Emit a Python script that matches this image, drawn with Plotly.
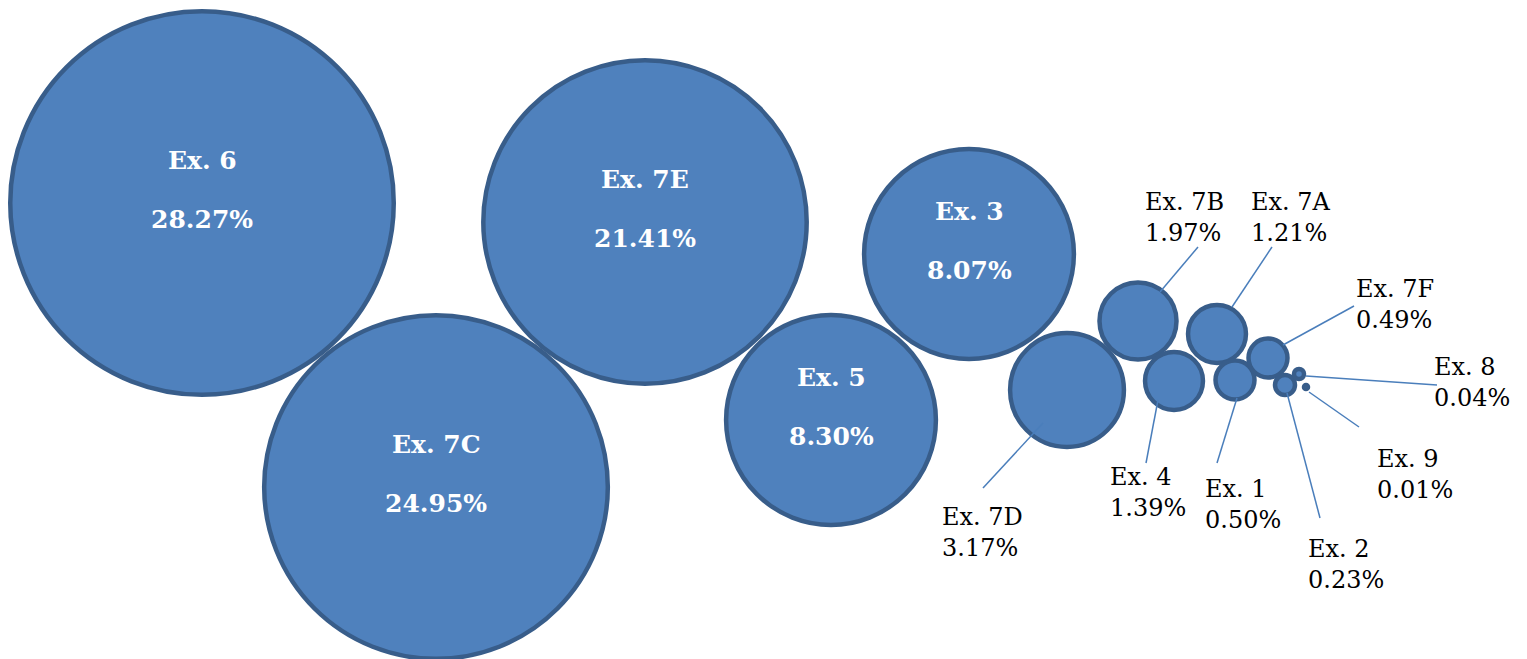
import plotly.graph_objects as go
import math

# ---- data ----
names = ["Ex. 6", "Ex. 7C", "Ex. 7E", "Ex. 5", "Ex. 3", "Ex. 7D", "Ex. 7B",
         "Ex. 4", "Ex. 7A", "Ex. 1", "Ex. 7F", "Ex. 2", "Ex. 8", "Ex. 9"]
shares = [28.27, 24.95, 21.41, 8.30, 8.07, 3.17, 1.97,
          1.39, 1.21, 0.50, 0.49, 0.23, 0.04, 0.01]
x_vals = [2.02, 4.36, 6.45, 8.31, 9.69, 10.67, 11.38,
          11.74, 12.17, 12.35, 12.68, 12.85, 12.99, 13.06]
y_vals = [4.56, 1.72, 4.37, 2.39, 4.05, 2.69, 3.38,
          2.78, 3.25, 2.79, 3.01, 2.74, 2.85, 2.72]
bubble_size = [28.27, 22.7, 20.1, 8.46, 8.46, 2.49, 1.14,
               0.645, 0.645, 0.292, 0.292, 0.0767, 0.0192, 0.0031]

# ---- style ----
FILL = "#4F81BD"
EDGE = "#385D8A"
LEADER = "#4A7EBB"
LW = 4.5
D_MAX = 383.5
W, H = 1527, 659

diam = [D_MAX * math.sqrt(v / max(bubble_size)) for v in bubble_size]

fig = go.Figure()
fig.add_trace(go.Scatter(
    x=x_vals, y=y_vals, mode="markers",
    marker=dict(size=diam, sizemode="diameter", color=FILL,
                line=dict(color=EDGE, width=LW), opacity=1),
    cliponaxis=False, hoverinfo="skip", showlegend=False,
))

# label placement (pixel offsets relative to bubble centre; y positive downward)
outer_layout = {
    "Ex. 7D": dict(label=(-127, 142), start=(-24, 33), end=(-84, 98)),
    "Ex. 7B": dict(label=(5, -104), start=(22, -29), end=(60, -74)),
    "Ex. 4":  dict(label=(-66, 111), start=(-16, 19), end=(-28, 82)),
    "Ex. 7A": dict(label=(32, -117), start=(15, -27), end=(55, -87)),
    "Ex. 1":  dict(label=(-32, 124), start=(2, 18), end=(-18, 83)),
    "Ex. 7F": dict(label=(86, -54), start=(15, -13), end=(86, -52)),
    "Ex. 2":  dict(label=(21, 179), start=(2, 8), end=(35, 133)),
    "Ex. 8":  dict(label=(133, 8), start=(7, 2), end=(138, 11)),
    "Ex. 9":  dict(label=(69, 87), start=(3, 5), end=(53, 40)),
}

annotations = []
shapes = []
for n, s, xv, yv in zip(names, shares, x_vals, y_vals):
    pct = f"{s:.2f}%"
    if n in outer_layout:
        o = outer_layout[n]
        shapes.append(dict(
            type="line", xref="x", yref="y",
            xsizemode="pixel", ysizemode="pixel",
            xanchor=xv, yanchor=yv,
            x0=o["start"][0], y0=-o["start"][1],
            x1=o["end"][0], y1=-o["end"][1],
            line=dict(color=LEADER, width=1.5), layer="above",
        ))
        annotations.append(dict(
            x=xv, y=yv, xref="x", yref="y", showarrow=False,
            text=f"{n}<br>{pct}", align="left",
            xanchor="left", yanchor="middle",
            xshift=o["label"][0], yshift=-o["label"][1],
            font=dict(family="DejaVu Serif", size=24, color="black"),
        ))
    else:
        annotations.append(dict(
            x=xv, y=yv, xref="x", yref="y", showarrow=False,
            text=f"<b>{n}</b>", xanchor="center", yanchor="middle",
            yshift=43,
            font=dict(family="DejaVu Serif", size=25, color="white"),
        ))
        annotations.append(dict(
            x=xv, y=yv, xref="x", yref="y", showarrow=False,
            text=f"<b>{pct}</b>", xanchor="center", yanchor="middle",
            yshift=-16,
            font=dict(family="DejaVu Serif", size=25, color="white"),
        ))

fig.update_layout(
    width=W, height=H,
    margin=dict(l=0, r=0, t=0, b=0),
    paper_bgcolor="white", plot_bgcolor="white",
    xaxis=dict(range=[0, 15.27], visible=False, fixedrange=True),
    yaxis=dict(range=[0, 6.59], visible=False, fixedrange=True),
    annotations=annotations, shapes=shapes,
    showlegend=False,
)

fig.write_html("out.html", config={"displayModeBar": False})
